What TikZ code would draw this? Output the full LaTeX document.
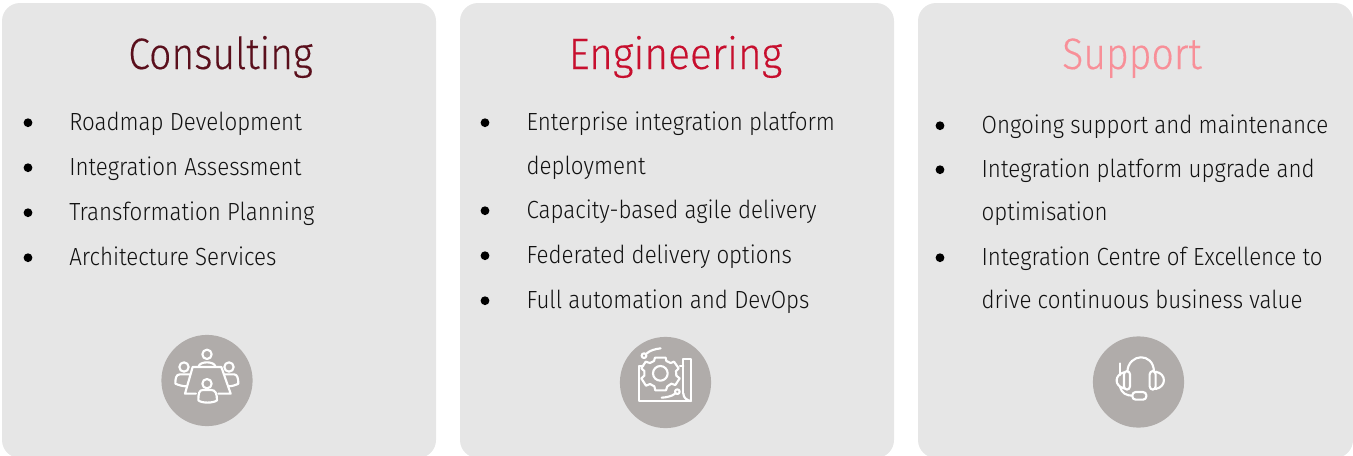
\documentclass[tikz,border=0pt]{standalone}
\usepackage{fontspec}
\setmainfont[FakeStretch=0.9]{Fira Sans Light}
\newfontfamily\headfont[FakeStretch=0.89,FakeBold=0.3]{Fira Sans Light}
\newfontfamily\headwide[FakeStretch=0.925,FakeBold=0.3]{Fira Sans Light}
\definecolor{cardgrey}{HTML}{E6E6E6}
\definecolor{icongrey}{HTML}{B0ACAA}
\definecolor{cons}{HTML}{5A0F1C}
\definecolor{engi}{HTML}{C70F2E}
\definecolor{supp}{HTML}{F88F98}
\definecolor{txt}{HTML}{111111}
\tikzset{
  card/.style={fill=cardgrey,rounded corners=13.5pt},
  heading/.style={anchor=base,inner sep=0pt,text width=300pt,align=center,font=\headfont\fontsize{33pt}{38pt}\selectfont},
  item/.style={anchor=base west,inner sep=0pt,text=txt,font=\fontsize{18.6pt}{22pt}\selectfont},
  bullet/.style={circle,fill=black,inner sep=0pt,minimum size=6.6pt},
  iconbg/.style={circle,fill=icongrey,inner sep=0pt,minimum size=68.4pt},
  iconline/.style={draw=white,line width=1.6pt,line join=round,line cap=round,fill=none},
}
\begin{document}
\begin{tikzpicture}[x=0.75pt,y=-0.75pt]
\useasboundingbox (0,0) rectangle (1353,455);
\begin{scope}
\clip (0,0) rectangle (1353,455);
\fill[card] (2,3) rectangle (436,458);
\fill[card] (460,3) rectangle (894,458);
\fill[card] (918,3) rectangle (1353,458);
\end{scope}
% headings
\node[heading,text=cons] (h1) at (220.5,69) {Consulting};
\node[heading,text=engi,font=\headwide\fontsize{33pt}{38pt}\selectfont] (h2) at (675.5,69) {Engineering};
\node[heading,text=supp] (h3) at (1132,69) {Support};
% column 1
\node[bullet] (b11) at (28,122.7) {};
\node[bullet] (b12) at (28,167.7) {};
\node[bullet] (b13) at (28,212.7) {};
\node[bullet] (b14) at (28,257.7) {};
\node[item] (t11) at (69,130.5) {Roadmap Development};
\node[item] (t12) at (69,175.5) {Integration Assessment};
\node[item] (t13) at (69,220.5) {Transformation Planning};
\node[item] (t14) at (69,265.5) {Architecture Services};
% column 2
\node[bullet] (b21) at (485,122.7) {};
\node[bullet] (b22) at (485,210.7) {};
\node[bullet] (b23) at (485,255.7) {};
\node[bullet] (b24) at (485,300.7) {};
\node[item] (t21) at (526.4,130.5) {Enterprise integration platform};
\node[item] (t21b) at (526.4,174) {deployment};
\node[item] (t22) at (526.4,218.5) {Capacity-based agile delivery};
\node[item] (t23) at (526.4,263.5) {Federated delivery options};
\node[item] (t24) at (526.4,308.5) {Full automation and DevOps};
% column 3
\node[bullet] (b31) at (940,125.7) {};
\node[bullet] (b32) at (940,169.7) {};
\node[bullet] (b33) at (940,257.7) {};
\node[item] (t31) at (981.4,133.5) {Ongoing support and maintenance};
\node[item] (t32) at (981.4,177.5) {Integration platform upgrade and};
\node[item] (t32b) at (981.4,220.5) {optimisation};
\node[item] (t33) at (981.4,265.5) {Integration Centre of Excellence to};
\node[item] (t33b) at (981.4,308.5) {drive continuous business value};
% icons
\node[iconbg] (i1) at (207,380.5) {};
\node[iconbg] (i2) at (665.5,382.5) {};
\node[iconbg] (i3) at (1138.5,382) {};
% meeting icon
\begin{scope}[shift={(140,325)},x=0.25pt,y=-0.25pt]
\draw[iconline] (201,88) circle (14);
\draw[iconline] (132,126) circle (14);
\draw[iconline] (267,126) circle (14);
\draw[iconline] (201,176) circle (14);
\draw[iconline] (176,124) .. controls (180,108) and (222,108) .. (226,124);
\draw[iconline] (158,126) -- (244,126) -- (272,206) -- (235,206);
\draw[iconline] (158,126) -- (135,206) -- (168,206);
\draw[iconline] (150,148) -- (120,148) .. controls (108,148) and (106,160) .. (106,176) .. controls (115,180) and (128,184) .. (140,184);
\draw[iconline] (254,148) -- (282,148) .. controls (292,148) and (295,160) .. (295,176) .. controls (288,180) and (276,184) .. (264,184);
\draw[iconline] (188,195) -- (214,195) .. controls (226,195) and (231,205) .. (231,226) .. controls (220,235) and (185,235) .. (175,226) .. controls (175,205) and (178,195) .. (188,195);
\end{scope}
% blueprint / gear icon
\begin{scope}[shift={(600,325)},x=0.25pt,y=-0.25pt]
\draw[iconline] (181,145) circle (22);
\draw[iconline] (165,98) -- (197,98) -- (199,108) -- (212,114) -- (222,110) -- (236,130) -- (228,138) -- (229,152) -- (239,160) -- (226,180) -- (214,176) -- (202,184) -- (198,196) -- (166,196) -- (163,184) -- (150,177) -- (138,182) -- (124,160) -- (133,152) -- (133,138) -- (124,130) -- (137,110) -- (150,114) -- (162,108) -- cycle;
\draw[iconline] (130,122) -- (116,122) -- (116,228) -- (273,228) -- (273,103) -- (250,103) -- (250,205);
\draw[iconline] (240,122) -- (250,122);
\draw[iconline] (250,205) .. controls (250,218) and (260,226) .. (273,228);
\draw[iconline] (132,92) circle (7);
\draw[iconline] (139,86) .. controls (150,76) and (165,72) .. (182,70);
\draw[iconline] (232,200) circle (7);
\draw[iconline] (225,206) .. controls (215,214) and (200,217) .. (185,218);
\end{scope}
% headset icon
\begin{scope}[shift={(1075,325)},x=0.25pt,y=-0.25pt]
\draw[iconline] (157,140) .. controls (160,85) and (235,80) .. (237,140);
\draw[iconline,rounded corners=2.5pt] (147,138) rectangle (165,194);
\draw[iconline,rounded corners=2.5pt] (224,138) rectangle (242,194);
\draw[iconline] (147,142) .. controls (120,148) and (115,182) .. (147,190);
\draw[iconline] (242,140) .. controls (275,146) and (275,185) .. (242,192);
\draw[iconline] (135,115) -- (135,150);
\draw[iconline] (135,186) .. controls (140,205) and (155,212) .. (172,212);
\draw[iconline,rounded corners=2.5pt] (172,201) rectangle (214,224);
\end{scope}
\end{tikzpicture}
\end{document}
